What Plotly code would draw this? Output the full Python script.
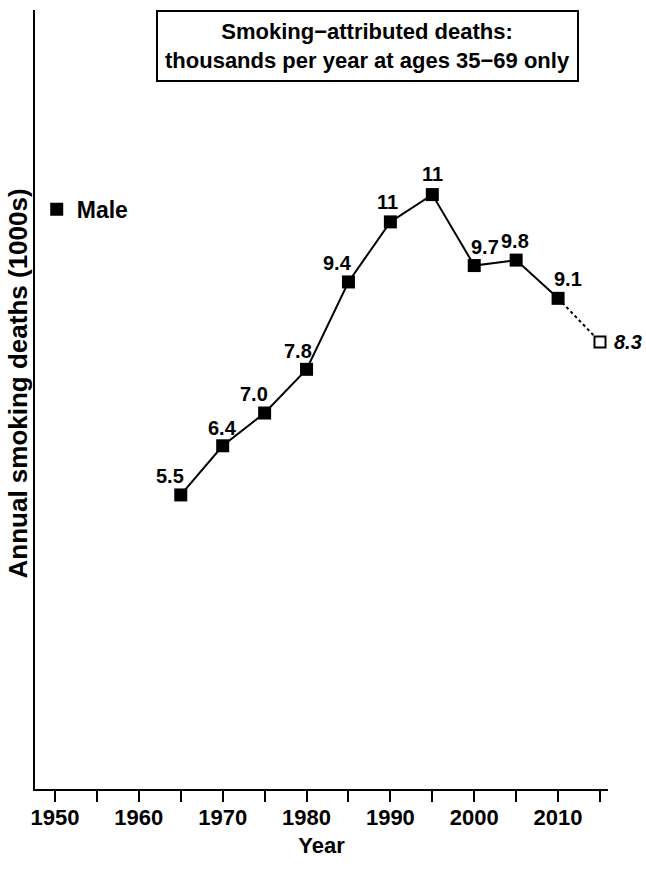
import plotly.graph_objects as go

# ---- data ----
years = [1965, 1970, 1975, 1980, 1985, 1990, 1995, 2000, 2005, 2010, 2015]
male_deaths = [5.5, 6.4, 7.0, 7.8, 9.4, 10.5, 11.0, 9.7, 9.8, 9.1, 8.3]
series_name = "Male"
tick_years = [1950, 1955, 1960, 1965, 1970, 1975, 1980, 1985, 1990, 1995, 2000, 2005, 2010, 2015]
tick_labels = ["1950", "", "1960", "", "1970", "", "1980", "", "1990", "", "2000", "", "2010", ""]
title_text = "Smoking\u2212attributed deaths:<br>thousands per year at ages 35\u221269 only"
y_title = "Annual smoking deaths (1000s)"
x_title = "Year"

# label nudges (px) to reproduce the reference placement
label_dx = [-11, 0, -11, -9, -11, -3, 0, 11, -1, 10]
label_dy = [6, 5, 6, 5, 6, 7, 8, 6, 6, 6]

FONT = "Liberation Sans, Arial, Helvetica, sans-serif"

W, H = 646, 871
ML, MR, MT, MB = 35, 38, 10, 82

fig = go.Figure()

# observed line (solid)
fig.add_trace(go.Scatter(
    x=years[:-1], y=male_deaths[:-1], mode="lines",
    line=dict(color="black", width=2), showlegend=False, hoverinfo="skip"))
# projection (dotted)
fig.add_trace(go.Scatter(
    x=years[-2:], y=male_deaths[-2:], mode="lines",
    line=dict(color="black", width=2, dash="dot"), showlegend=False, hoverinfo="skip"))
# observed markers
fig.add_trace(go.Scatter(
    x=years[:-1], y=male_deaths[:-1], mode="markers", name=series_name,
    marker=dict(symbol="square", size=13, color="black"), showlegend=True))
# projected marker
fig.add_trace(go.Scatter(
    x=years[-1:], y=male_deaths[-1:], mode="markers",
    marker=dict(symbol="square", size=11, color="white", line=dict(color="black", width=2)),
    showlegend=False))

def fmt(v):
    return str(int(v + 0.5)) if v >= 10 else f"{v:.1f}"

for i, (x, v) in enumerate(zip(years[:-1], male_deaths[:-1])):
    fig.add_annotation(x=x, y=v, text=fmt(v), showarrow=False,
                       xanchor="center", yanchor="bottom",
                       xshift=label_dx[i], yshift=label_dy[i],
                       font=dict(family=FONT, size=20, color="black", weight="bold"))
fig.add_annotation(x=years[-1], y=male_deaths[-1], text="<i>" + fmt(male_deaths[-1]) + "</i>",
                   showarrow=False, xanchor="left", yanchor="middle", xshift=12,
                   font=dict(family=FONT, size=20, color="black", weight="bold"))

# title box
fig.add_annotation(xref="paper", yref="paper", x=0.5, y=1, xshift=46, yshift=0,
                   xanchor="center", yanchor="top", text=title_text, showarrow=False,
                   align="center", bordercolor="black", borderwidth=2, borderpad=7,
                   bgcolor="white",
                   font=dict(family=FONT, size=22, color="black", weight="bold"))

# y title
fig.add_annotation(xref="paper", yref="paper", x=0, y=0.5, xshift=-18, yshift=16,
                   text=y_title, textangle=-90, showarrow=False,
                   xanchor="center", yanchor="middle",
                   font=dict(family=FONT, size=26, color="black", weight="bold"))

fig.update_layout(
    width=W, height=H,
    margin=dict(l=ML, r=MR, t=MT, b=MB, autoexpand=False),
    paper_bgcolor="white", plot_bgcolor="white",
    font=dict(family=FONT, color="black"),
    showlegend=True,
    legend=dict(x=0.003, y=0.744, xanchor="left", yanchor="middle",
                bgcolor="rgba(0,0,0,0)", borderwidth=0,
                font=dict(family=FONT, size=23, color="black", weight="bold")),
    xaxis=dict(range=[1947.615, 2015.954], showgrid=False, zeroline=False,
               showline=True, linecolor="black", linewidth=2,
               tickmode="array", tickvals=tick_years, ticktext=tick_labels,
               ticks="outside", ticklen=11, tickwidth=2, tickcolor="black",
               ticklabelstandoff=-3,
               tickfont=dict(family=FONT, size=22, color="black", weight="bold"),
               title=dict(text=x_title, standoff=8,
                          font=dict(family=FONT, size=22, color="black", weight="bold")),
               automargin=False),
    yaxis=dict(range=[0.115, 14.38], showgrid=False, zeroline=False,
               showline=True, linecolor="black", linewidth=2,
               showticklabels=False, ticks="", automargin=False),
)

fig.write_html("out.html", config={"displayModeBar": False},
               post_script="document.body.style.margin='0px';document.body.style.overflow='hidden';")
